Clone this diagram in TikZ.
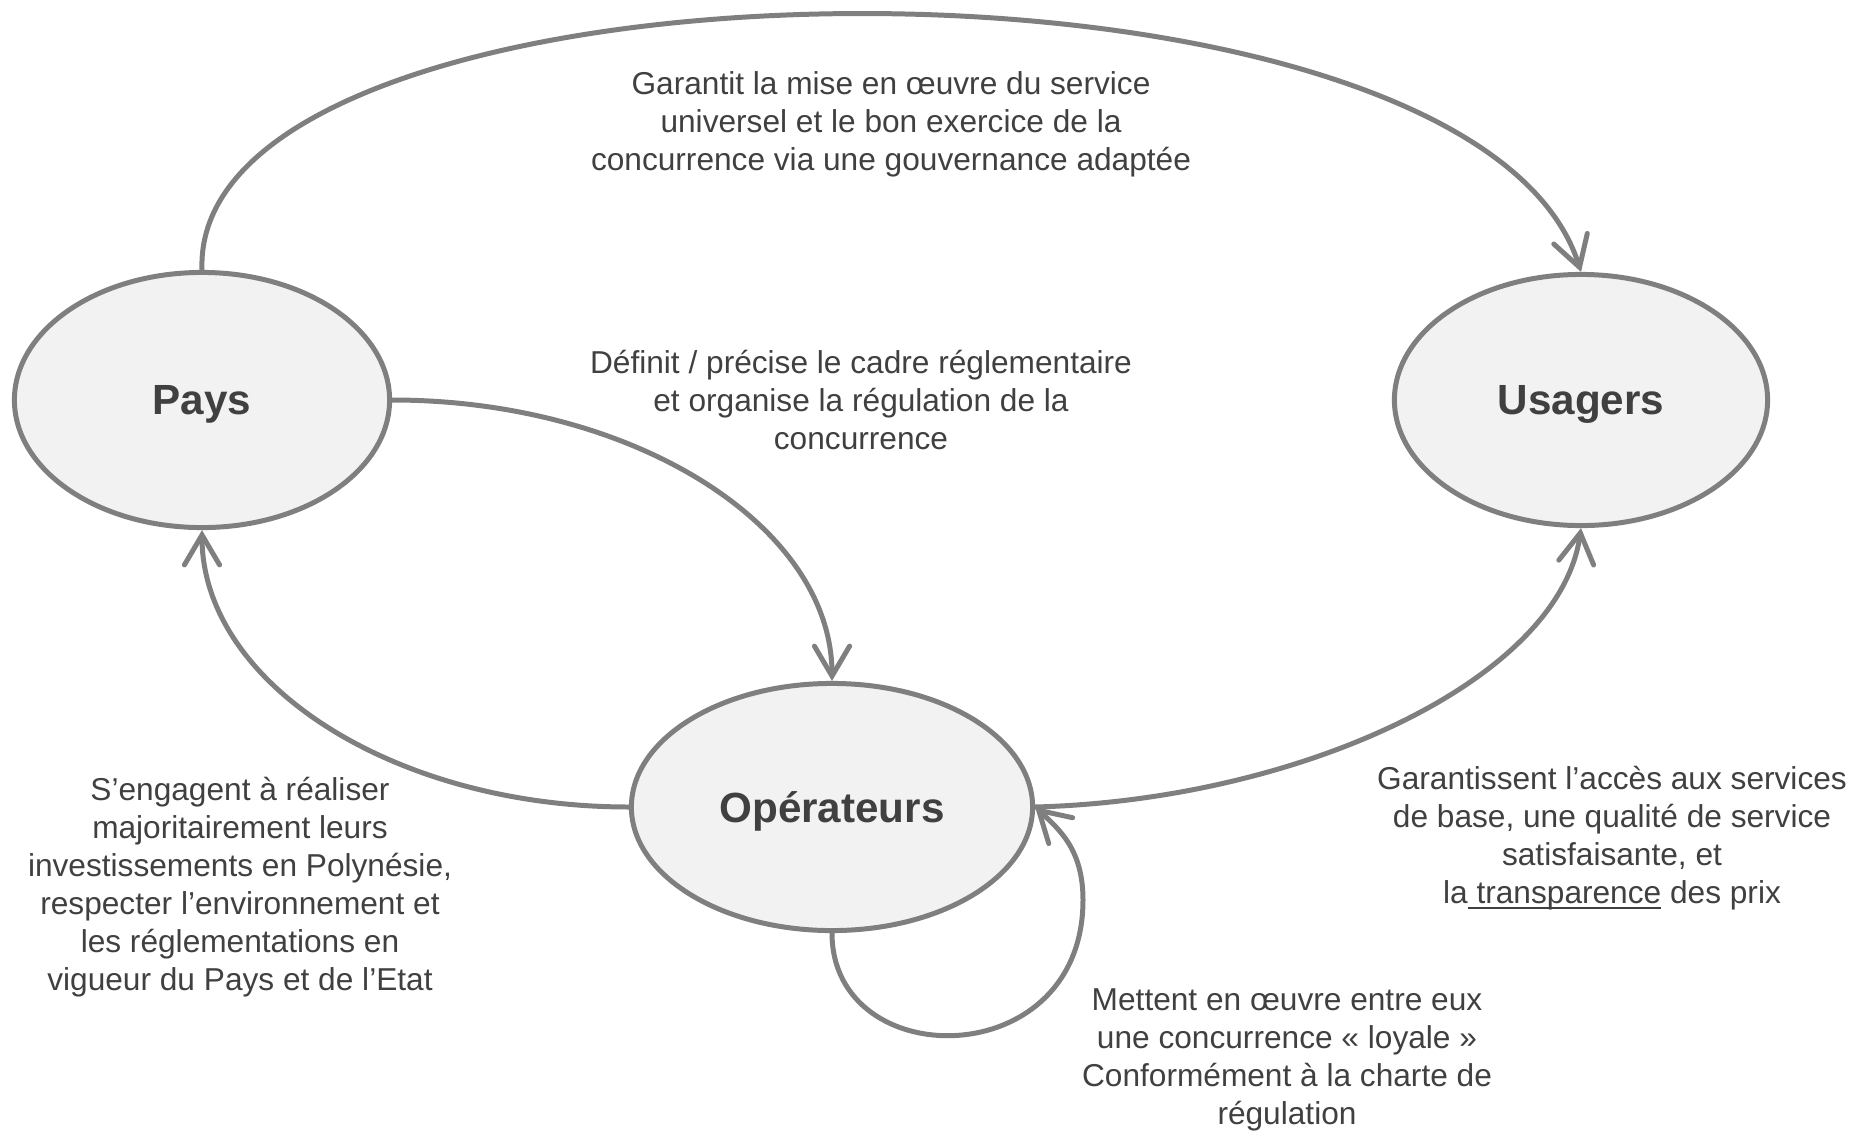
\documentclass[tikz,border=0pt]{standalone}
\usepackage{fontspec}
\setmainfont{Liberation Sans}
\usetikzlibrary{arrows.meta,shapes.geometric}

\newsavebox\ulbox
\newcommand\ulword[1]{\sbox\ulbox{#1}\rlap{\rule[-1.6pt]{\wd\ulbox}{0.5pt}}\usebox\ulbox}

\definecolor{txtgray}{HTML}{404040}
\definecolor{linegray}{HTML}{7F7F7F}
\definecolor{fillgray}{HTML}{F2F2F2}

\tikzset{
  actor/.style={draw=linegray,fill=fillgray,ellipse,line width=1.42pt,
    inner sep=0pt,text depth=0pt,text=txtgray,
    font=\fontsize{12}{14}\selectfont\bfseries},
  lbl/.style={align=center,text=txtgray,inner sep=0pt,
    font=\fontsize{9}{10.8}\selectfont},
  flow/.style={draw=linegray,line width=1.42pt,
    -{Straight Barb[length=8.5pt,width=10pt,line cap=round]}},
}

\begin{document}
\begin{tikzpicture}[x=0.01cm,y=-0.01cm]
\useasboundingbox (0,0) rectangle (1863,1136);

\node[actor,minimum width=3.75cm,minimum height=2.55cm](pays) at (202,400) {Pays};
\node[actor,minimum width=3.73cm,minimum height=2.51cm](usagers) at (1581,400) {Usagers};
\node[actor,minimum width=4.01cm,minimum height=2.47cm](ope) at (832,807) {Opérateurs};

\node[lbl](garantit) at (891,124) {Garantit la mise en œuvre du service\\
  universel  et le bon exercice de la\\concurrence via une gouvernance adaptée};
\node[lbl](definit) at (861,400) {Définit / précise le cadre réglementaire\\
  et organise la régulation de la\\concurrence};
\node[lbl](engagent) at (240,887) {S’engagent à réaliser\\majoritairement leurs\\
  investissements en Polynésie,\\respecter l’environnement et\\
  les réglementations en\\vigueur du Pays et de l’Etat};
\node[lbl](garantissent) at (1612,838) {Garantissent l’accès aux services\\
  de base, une qualité de service\\satisfaisante, et\\
  la\ulword{ transparence} des prix};
\node[lbl](mettent) at (1287,1060) {Mettent en œuvre entre eux\\
  une concurrence « loyale »\\Conformément à la charte de\\régulation};

\draw[flow] (pays.north) .. controls (190,-62) and (1470,-80) .. (usagers.north);
\draw[flow] (pays.east) .. controls (634,400) and (832,526) .. (ope.north);
\draw[flow] (ope.west) .. controls (393,807) and (202,683) .. (pays.south);
\draw[flow] (ope.east) .. controls (1300,800) and (1560,680) .. (usagers.south);
\draw[flow] (ope.south) .. controls (832,1075) and (1083,1075) .. (1083,900)
  .. controls (1083,850) and (1060,830) .. (ope.east);

\end{tikzpicture}
\end{document}
